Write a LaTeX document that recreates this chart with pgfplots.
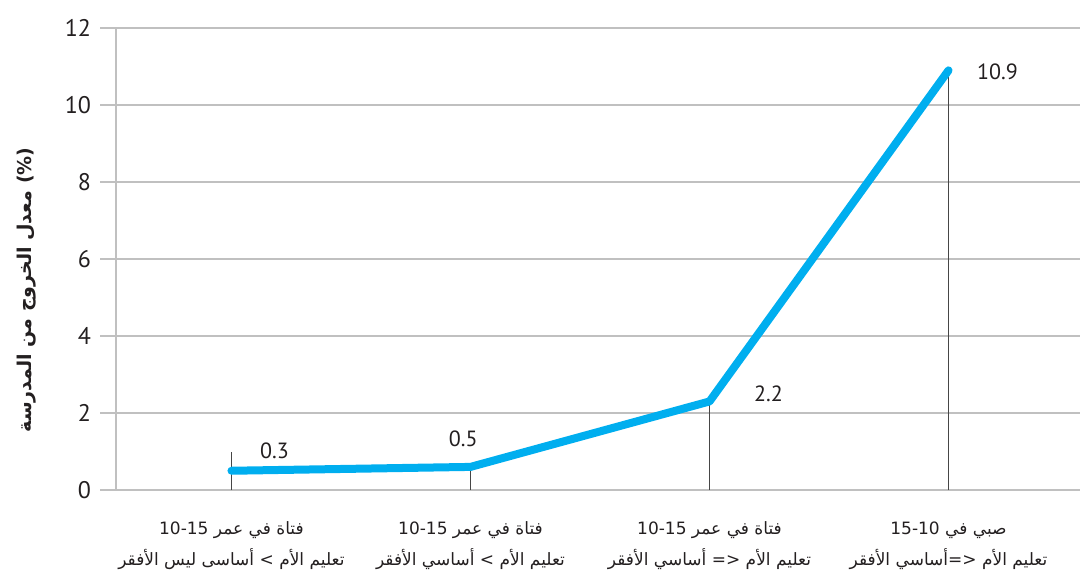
\documentclass[border=0pt]{standalone}
\usepackage{fontspec}
\usepackage{pgfplots}
\pgfplotsset{compat=1.18}
\setmainfont{PT Sans}
\newfontfamily\arabicfont[Script=Arabic]{DejaVu Sans}
\TeXXeTstate=1
\definecolor{linecyan}{RGB}{0,174,239}
\definecolor{gridgray}{RGB}{192,192,192}
\definecolor{dropgray}{RGB}{70,70,70}
\definecolor{txt}{RGB}{35,31,32}
\begin{document}
\begin{tikzpicture}
\path[use as bounding box] (-50pt,-44pt) rectangle (490pt,245pt);
\begin{axis}[
  scale only axis, width=490pt, height=231pt,
  xmin=-0.55, xmax=3.55, ymin=0, ymax=12,
  axis line style={draw=none},
  ytick={0,2,...,12},
  ymajorgrids, grid style={gridgray, line width=1pt},
  major tick length=0pt,
  xtick={0,1,2,3},
  xticklabels={
    {\beginR فتاة في عمر \beginL10-15\endL\endR\\\beginR تعليم الأم > أساسى  ليس الأفقر\endR},
    {\beginR فتاة في عمر \beginL10-15\endL\endR\\\beginR تعليم الأم > أساسي الأفقر\endR},
    {\beginR فتاة في عمر \beginL10-15\endL\endR\\\beginR تعليم الأم <= أساسي الأفقر\endR},
    {\beginR صبي في \beginL15-10\endL\endR\\\beginR تعليم الأم <=أساسي الأفقر\endR}},
  xticklabel style={align=center, text=txt, font=\arabicfont\fontsize{8.5}{15.5}\selectfont, yshift=-12.5pt},
  yticklabel style={text=txt, font=\fontsize{12}{14}\selectfont, xshift=-1pt},
  /pgf/number format/assume math mode=true,
  clip=false,
]
\addplot[ycomb, dropgray, line width=0.85pt, mark=none] coordinates {(0,1.0) (1,0.6) (2,2.3) (3,10.9)};
\addplot[linecyan, line width=4pt, line cap=round, line join=round, mark=none] coordinates {(0,0.5) (1,0.6) (2,2.3) (3,10.9)};
\draw[gridgray, line width=1pt] (axis cs:-0.481,0) -- (axis cs:-0.481,12);
\node[text=txt, font=\fontsize{11}{13}\selectfont] at (axis cs:0.18,1.01) {0.3};
\node[text=txt, font=\fontsize{11}{13}\selectfont] at (axis cs:0.97,1.32) {0.5};
\node[text=txt, font=\fontsize{11}{13}\selectfont] at (axis cs:2.247,2.49) {2.2};
\node[text=txt, font=\fontsize{11}{13}\selectfont] at (axis cs:3.205,10.86) {10.9};
\node[rotate=90, text=txt, font=\arabicfont\bfseries\fontsize{9.5}{11}\selectfont] at ([xshift=-36.5pt]rel axis cs:0,0.433) {{\beginR معدل الخروج من المدرسة\endR} (\%)};
\end{axis}
\end{tikzpicture}
\end{document}
